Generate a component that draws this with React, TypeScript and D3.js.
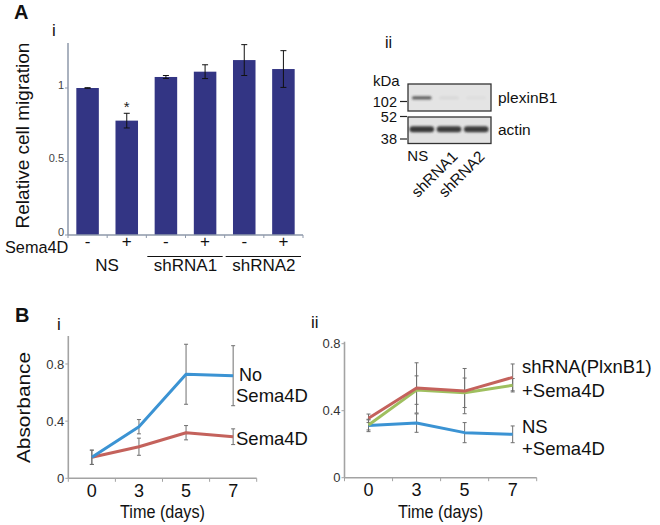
import React from 'react';
import * as d3 from 'd3';

// ---------- Panel A i : bar chart ----------
const barCategories = ['NS-', 'NS+', 'sh1-', 'sh1+', 'sh2-', 'sh2+'];
const barSema = ['-', '+', '-', '+', '-', '+'];
const barValues = [1.0, 0.778, 1.075, 1.111, 1.19, 1.129];
const barErrors = [0.002, 0.05, 0.01, 0.047, 0.105, 0.125];
const barTicks = [0, 0.5, 1];
const barTickLabels = ['0', '0.5', '1'];
const groupLabels = ['NS', 'shRNA1', 'shRNA2'];
const groupUnderline = [false, true, true];
const barSignificant = [false, true, false, false, false, false];

// ---------- Panel A ii : western blot ----------
const blotLanes = ['NS', 'shRNA1', 'shRNA2'];
const plexinIntensity = [0.75, 0.06, 0.03];
const actinIntensity = [0.92, 0.9, 0.9];
const markerKDa = [102, 52, 38];

// ---------- Panel B ----------
const timeDays = ['0', '3', '5', '7'];
const bITicks = [0, 0.4, 0.8];
const noSemaValues = [0.147, 0.361, 0.728, 0.718];
const noSemaErr = [0.05, 0.05, 0.21, 0.21];
const semaValues = [0.147, 0.221, 0.319, 0.291];
const semaErr = [0.05, 0.06, 0.05, 0.055];

const bIITicks = [0, 0.4, 0.8];
const shRedValues = [0.355, 0.536, 0.517, 0.599];
const shRedErr = [0.025, 0.15, 0.135, 0.08];
const shGreenValues = [0.315, 0.523, 0.507, 0.552];
const shGreenErr = [0.03, 0.085, 0.088, 0.04];
const nsValues = [0.312, 0.326, 0.269, 0.259];
const nsErr = [0.037, 0.055, 0.06, 0.05];

const FONT = 'Liberation Sans, Arial, Helvetica, sans-serif';
const BLUE = '#3b93d3';
const RED = '#c4625c';
const GREEN = '#9fbf5f';
const BAR = '#333584';

function fmt(v: number) {
  return v === 0 ? '0' : d3.format('.1f')(v);
}

function PanelAi() {
  const x = d3.scaleBand<string>().domain(barCategories).range([68, 303]).paddingInner(0.425).paddingOuter(0.2125);
  const y = d3.scaleLinear().domain([0, 1.3]).range([235, 43.9]);
  const axisColor = '#8e98aa';
  const bw = x.bandwidth();
  const cx = (c: string) => (x(c) as number) + bw / 2;
  const step = x.step();
  const boundaries = d3.range(barCategories.length + 1).map((i) => 68 + i * ((303 - 68) / barCategories.length));
  return (
    <g fontFamily={FONT}>
      {barCategories.map((c, i) => (
        <rect key={c} x={x(c)} y={y(barValues[i])} width={bw} height={y(0) - y(barValues[i])} fill={BAR} />
      ))}
      {barCategories.map((c, i) => {
        const hi = y(barValues[i] + barErrors[i]);
        const lo = y(barValues[i] - barErrors[i]);
        return (
          <g key={'e' + c} stroke="#111" strokeWidth={1}>
            <line x1={cx(c)} x2={cx(c)} y1={hi} y2={lo} />
            <line x1={cx(c) - 3} x2={cx(c) + 3} y1={hi} y2={hi} />
            <line x1={cx(c) - 3} x2={cx(c) + 3} y1={lo} y2={lo} />
          </g>
        );
      })}
      {barCategories.map((c, i) =>
        barSignificant[i] ? (
          <text key={'s' + c} x={cx(c)} y={y(barValues[i] + barErrors[i]) - 1} textAnchor="middle" fontSize={15} fill="#222">
            *
          </text>
        ) : null
      )}
      <line x1={68} x2={68} y1={43} y2={235} stroke={axisColor} strokeWidth={1.5} />
      <line x1={68} x2={303} y1={235} y2={235} stroke={axisColor} strokeWidth={1.5} />
      {boundaries.map((b, i) => (
        <line key={'b' + i} x1={b} x2={b} y1={235} y2={238} stroke={axisColor} strokeWidth={1} />
      ))}
      {barTicks.map((t, i) => (
        <g key={'t' + i}>
          <line x1={65} x2={68} y1={y(t)} y2={y(t)} stroke={axisColor} strokeWidth={1} />
          <text x={64} y={y(t) - 3} dy="0.33em" textAnchor="end" fontSize={11} fill="#444">
            {barTickLabels[i]}
          </text>
        </g>
      ))}
      <text transform={`translate(29,${(43 + 228) / 2}) rotate(-90)`} textAnchor="middle" fontSize={19} fill="#111">
        Relative cell migration
      </text>
      <text x={5} y={253} fontSize={16.3} fill="#111">
        Sema4D
      </text>
      {barCategories.map((c, i) => (
        <text key={'p' + c} x={cx(c)} y={247} textAnchor="middle" fontSize={17} fill="#111">
          {barSema[i]}
        </text>
      ))}
      {groupLabels.map((g, gi) => {
        const a = barCategories[gi * 2];
        const b = barCategories[gi * 2 + 1];
        const mid = (cx(a) + cx(b)) / 2;
        return (
          <g key={g}>
            {groupUnderline[gi] ? (
              <line x1={cx(a) - step / 2 + 1} x2={cx(b) + step / 2 - 2} y1={256.5} y2={256.5} stroke="#111" strokeWidth={1} />
            ) : null}
            <text x={mid} y={271} textAnchor="middle" fontSize={17} fill="#111">
              {g}
            </text>
          </g>
        );
      })}
    </g>
  );
}

function PanelAii() {
  const lane = d3.scaleBand<string>().domain(blotLanes).range([409, 489]).paddingInner(0.06);
  const mk = d3.scaleLinear().domain([38, 52, 102]).range([139, 116.5, 101.5]);
  const topBox = { y: 84, h: 27 };
  const botBox = { y: 117, h: 26.5 };
  return (
    <g fontFamily={FONT}>
      <defs>
        <filter id="blur1" x="-20%" y="-100%" width="140%" height="300%">
          <feGaussianBlur stdDeviation="0.9" />
        </filter>
      </defs>
      <rect x={408} y={topBox.y} width={83} height={topBox.h} fill="#e4e4e4" stroke="#333" strokeWidth={1.3} />
      <rect x={408} y={botBox.y} width={83} height={botBox.h} fill="#e2e2e2" stroke="#333" strokeWidth={1.3} />
      {blotLanes.map((l, i) => (
        <rect
          key={'p' + l}
          x={(lane(l) as number) + 3}
          y={96.2}
          width={lane.bandwidth() - 6}
          height={3.2}
          rx={1.5}
          fill="#333"
          opacity={plexinIntensity[i]}
          filter="url(#blur1)"
        />
      ))}
      {blotLanes.map((l, i) => (
        <rect
          key={'a' + l}
          x={(lane(l) as number) + 0.5}
          y={126.3}
          width={lane.bandwidth() - 1}
          height={6}
          rx={3}
          fill="#2a2a2a"
          opacity={actinIntensity[i]}
          filter="url(#blur1)"
        />
      ))}
      <text x={373} y={86} fontSize={15} fill="#111">
        kDa
      </text>
      {markerKDa.map((m) => (
        <g key={m}>
          <line x1={400} x2={407} y1={mk(m)} y2={mk(m)} stroke="#222" strokeWidth={1.2} />
          <text x={397} y={mk(m)} dy="0.36em" textAnchor="end" fontSize={14.5} fill="#111">
            {m}
          </text>
        </g>
      ))}
      <text x={498} y={103} fontSize={15.5} fill="#111">
        plexinB1
      </text>
      <text x={498} y={135} fontSize={15.5} fill="#111">
        actin
      </text>
      {blotLanes.map((l, i) =>
        i === 0 ? (
          <text key={'l' + l} x={(lane(l) as number) + lane.bandwidth() / 2 - 4} y={160.5} textAnchor="middle" fontSize={15} fill="#111">
            {l}
          </text>
        ) : (
          <text
            key={'l' + l}
            transform={`translate(${(lane(l) as number) + lane.bandwidth() / 2 + 9.5},${157.5}) rotate(-45)`}
            textAnchor="end"
            fontSize={15.5}
            fill="#111"
          >
            {l}
          </text>
        )
      )}
    </g>
  );
}

type Series = { values: number[]; err: number[]; color: string };

function LinePanel(props: {
  x0: number;
  x1: number;
  yZero: number;
  yMax: number;
  yMaxVal: number;
  axisTop: number;
  ticks: number[];
  series: Series[];
}) {
  const { x0, x1, yZero, yMax, yMaxVal, axisTop, ticks, series } = props;
  const x = d3.scaleBand<string>().domain(timeDays).range([x0, x1]).padding(0);
  const y = d3.scaleLinear().domain([0, yMaxVal]).range([yZero, yMax]);
  const cx = (d: string) => (x(d) as number) + x.bandwidth() / 2;
  const line = d3
    .line<number>()
    .x((_, i) => cx(timeDays[i]))
    .y((v) => y(v));
  const axisColor = '#a3a3a3';
  const bounds = d3.range(timeDays.length + 1).map((i) => x0 + i * x.step());
  return (
    <g fontFamily={FONT}>
      {series.map((s, si) =>
        s.values.map((v, i) => {
          const px = cx(timeDays[i]);
          const hi = y(v + s.err[i]);
          const lo = y(v - s.err[i]);
          return (
            <g key={si + '-' + i} stroke="#6f6f6f" strokeWidth={1}>
              <line x1={px} x2={px} y1={hi} y2={lo} />
              <line x1={px - 2} x2={px + 2} y1={hi} y2={hi} />
              <line x1={px - 2} x2={px + 2} y1={lo} y2={lo} />
            </g>
          );
        })
      )}
      {series.map((s, si) => (
        <path key={'l' + si} d={line(s.values) as string} fill="none" stroke={s.color} strokeWidth={3} strokeLinejoin="round" />
      ))}
      <line x1={x0} x2={x0} y1={axisTop} y2={yZero} stroke={axisColor} strokeWidth={1.6} />
      <line x1={x0} x2={x1} y1={yZero} y2={yZero} stroke={axisColor} strokeWidth={1.6} />
      {bounds.map((b, i) => (
        <line key={'b' + i} x1={b} x2={b} y1={yZero} y2={yZero + 3.5} stroke={axisColor} strokeWidth={1} />
      ))}
      {ticks.map((t) => (
        <g key={'t' + t}>
          <line x1={x0 - 3} x2={x0} y1={y(t)} y2={y(t)} stroke={axisColor} strokeWidth={1} />
          <text x={x0 - 4} y={y(t)} dy="0.36em" textAnchor="end" fontSize={13} fill="#333">
            {fmt(t)}
          </text>
        </g>
      ))}
      {timeDays.map((d) => (
        <text key={'x' + d} x={cx(d)} y={yZero + 18.5} textAnchor="middle" fontSize={18} fill="#111">
          {d}
        </text>
      ))}
      <text
        x={(x0 + x1) / 2}
        y={yZero + 40}
        textAnchor="middle"
        fontSize={17.5}
        fill="#111"
        textLength={85}
        lengthAdjust="spacingAndGlyphs"
      >
        Time (days)
      </text>
    </g>
  );
}

export default function App() {
  return (
    <svg
      width={660}
      height={525}
      viewBox="0 0 660 525"
      style={{ position: 'absolute', left: 0, top: 0, background: '#fff' }}
      fontFamily={FONT}
    >
      <rect x={0} y={0} width={660} height={525} fill="#fff" />
      <text x={14} y={19} fontSize={20} fontWeight="bold" fill="#111">
        A
      </text>
      <text x={52} y={36} fontSize={17} fill="#111">
        i
      </text>
      <text x={385} y={48} fontSize={16} fill="#111">
        ii
      </text>
      <PanelAi />
      <PanelAii />

      <text x={15} y={322} fontSize={20} fontWeight="bold" fill="#111">
        B
      </text>
      <text x={57} y={330} fontSize={17} fill="#111">
        i
      </text>
      <text x={311} y={328} fontSize={17} fill="#111">
        ii
      </text>
      <text transform={`translate(30,${(463 + 352) / 2}) rotate(-90)`} textAnchor="middle" fontSize={19} fill="#111" textLength={111} lengthAdjust="spacingAndGlyphs">
        Absorbance
      </text>
      <LinePanel
        x0={68.3}
        x1={256.7}
        yZero={478.3}
        yMax={335.4}
        yMaxVal={1.0}
        axisTop={336}
        ticks={bITicks}
        series={[
          { values: semaValues, err: semaErr, color: RED },
          { values: noSemaValues, err: noSemaErr, color: BLUE },
        ]}
      />
      <text x={239} y={381} fontSize={18} fill="#111">
        No
      </text>
      <text x={236} y={402} fontSize={18.5} fill="#111">
        Sema4D
      </text>
      <text x={236} y={445} fontSize={18.5} fill="#111">
        Sema4D
      </text>

      <LinePanel
        x0={344.5}
        x1={536.7}
        yZero={477.7}
        yMax={343.7}
        yMaxVal={0.8}
        axisTop={341.7}
        ticks={bIITicks}
        series={[
          { values: nsValues, err: nsErr, color: BLUE },
          { values: shGreenValues, err: shGreenErr, color: GREEN },
          { values: shRedValues, err: shRedErr, color: RED },
        ]}
      />
      <text x={522} y={373} fontSize={18.5} fill="#111">
        shRNA(PlxnB1)
      </text>
      <text x={522} y={397} fontSize={18.5} fill="#111">
        +Sema4D
      </text>
      <text x={522} y={433} fontSize={18.5} fill="#111">
        NS
      </text>
      <text x={522} y={455} fontSize={18.5} fill="#111">
        +Sema4D
      </text>
    </svg>
  );
}
